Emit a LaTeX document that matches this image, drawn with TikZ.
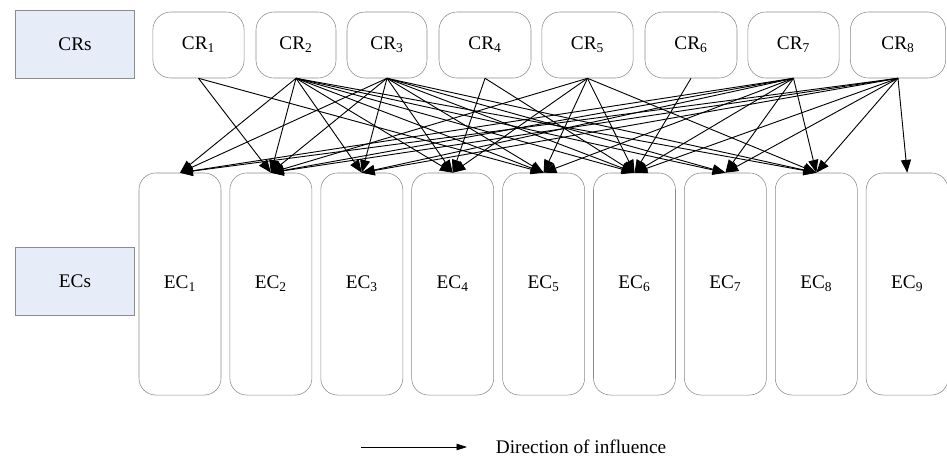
\documentclass[tikz,border=0pt]{standalone}
\usepackage{fontspec}
\setmainfont{Liberation Serif}
\usetikzlibrary{positioning,arrows.meta}
\tikzstyle{pixelGrid} = [x = 0.025cm, y = -0.025cm]
\definecolor{boxLine}{RGB}{140,140,140}
\definecolor{labelFill}{RGB}{231,237,248}
\newcommand{\diagramFont}{\fontsize{13.7}{16}\selectfont}
\tikzstyle{labelBox} = [draw=boxLine, fill=labelFill, minimum width = 2.98cm, minimum height = 1.7cm, font=\diagramFont]
\tikzstyle{crStyle} = [draw=boxLine, rounded corners = .45cm, minimum height = 1.65cm, font=\diagramFont]
\tikzstyle{ecStyle} = [draw=boxLine, rounded corners = .42cm, minimum width = 2.05cm, minimum height = 5.55cm, font=\diagramFont]
\tikzstyle{influence} = [line width = .65pt, -{Triangle[length = 3.2mm, width = 2.5mm]}]
\tikzstyle{legendArrow} = [line width = .45pt, -{Triangle[length = 2.6mm, width = 1.6mm]}]
\tikzstyle{legendText} = [font=\diagramFont]
\newcommand{\crBox}[3]{\node [crStyle, minimum width = #3 cm] (cr#1) at (#2, 45) {CR\textsubscript{#1}};}
\newcommand{\ecBox}[1]{
  \pgfmathsetmacro{\xpos}{180 + 90.9 * (#1 - 1)}
  \node [ecStyle] (ec#1) at (\xpos, 284) {EC\textsubscript{#1}};
}

\begin{document}
\begin{tikzpicture}[pixelGrid]
  \useasboundingbox (0,0) rectangle (947,461);

  % left hand labels
  \node [labelBox] (crLabel) at (75, 44) {CRs};
  \node [labelBox] (ecLabel) at (75, 281) {ECs};

  % customer requirements
  \foreach \idx/\xpos/\boxWidth in {1/198.5/2.28, 2/296/2.0, 3/387/2.0, 4/485/2.3, 5/587.5/2.28, 6/691/2.3, 7/793.5/2.28, 8/898/2.38} {
    \crBox{\idx}{\xpos}{\boxWidth}
  }

  % engineering characteristics
  \foreach \idx in {1,...,9} {
    \ecBox{\idx}
  }

  % relations
  \foreach \from/\to in {1/2, 1/5,
      2/1, 2/2, 2/3, 2/4, 2/5, 2/6, 2/7, 2/8,
      3/1, 3/2, 3/3, 3/4, 3/5, 3/6, 3/7, 3/8,
      4/4, 4/6,
      5/2, 5/4, 5/5, 5/6, 5/8,
      6/6,
      7/1, 7/2, 7/3, 7/5, 7/6, 7/7, 7/8,
      8/1, 8/2, 8/3, 8/6, 8/7, 8/8, 8/9} {
    \draw [influence] (cr\from.south) -- (ec\to.north);
  }

  % legend
  \coordinate (legendStart) at (361, 447);
  \coordinate (legendEnd) at (467, 447);
  \draw [legendArrow] (legendStart) -- (legendEnd);
  \node [legendText, right = 0.6cm of legendEnd] (legendLabel) {Direction of influence};
\end{tikzpicture}
\end{document}
